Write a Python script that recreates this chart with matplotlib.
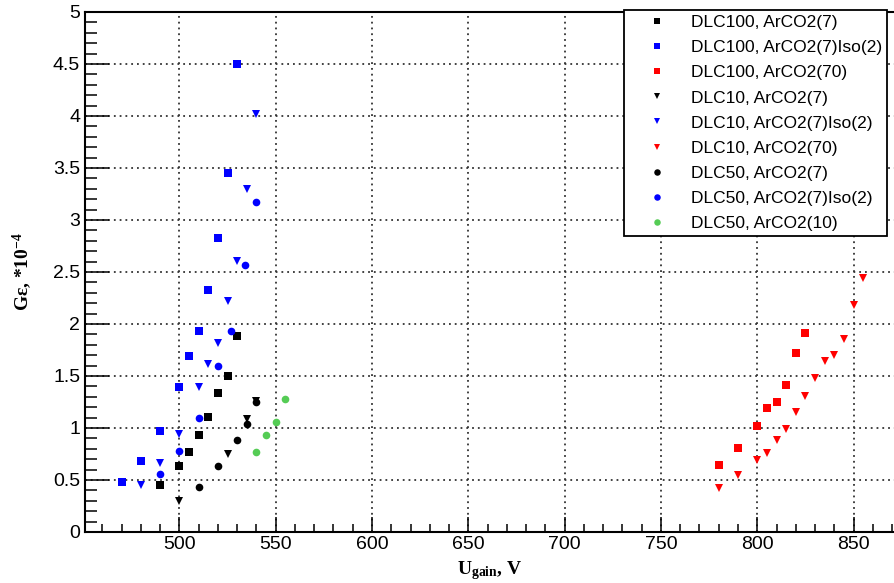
import numpy as np
import matplotlib
matplotlib.use('Agg')
import matplotlib.pyplot as plt
from matplotlib.ticker import MultipleLocator

plt.rcParams['font.family'] = ['Liberation Sans', 'DejaVu Sans']
plt.rcParams['mathtext.fontset'] = 'custom'
plt.rcParams['mathtext.rm'] = 'Liberation Serif:bold'
plt.rcParams['mathtext.default'] = 'rm'

# DLC100, ArCO2(7)
dlc100_7_u = [490, 500, 505, 510, 515, 520, 525, 530]
dlc100_7_g = [0.45, 0.63, 0.77, 0.93, 1.11, 1.34, 1.50, 1.88]
# DLC100, ArCO2(7)Iso(2)
dlc100_iso_u = [470, 480, 490, 500, 505, 510, 515, 520, 525, 530]
dlc100_iso_g = [0.48, 0.68, 0.97, 1.39, 1.69, 1.93, 2.33, 2.83, 3.45, 4.50]
# DLC100, ArCO2(70)
dlc100_70_u = [780, 790, 800, 805, 810, 815, 820, 825]
dlc100_70_g = [0.64, 0.81, 1.02, 1.19, 1.25, 1.41, 1.72, 1.91]
# DLC10, ArCO2(7)
dlc10_7_u = [500, 525, 535, 540]
dlc10_7_g = [0.30, 0.75, 1.09, 1.26]
# DLC10, ArCO2(7)Iso(2)
dlc10_iso_u = [480, 490, 500, 510, 515, 520, 525, 530, 535, 540]
dlc10_iso_g = [0.45, 0.66, 0.94, 1.39, 1.62, 1.82, 2.22, 2.61, 3.30, 4.02]
# DLC10, ArCO2(70)
dlc10_70_u = [780, 790, 800, 805, 810, 815, 820, 825, 830, 835, 840, 845, 850, 855]
dlc10_70_g = [0.42, 0.55, 0.69, 0.76, 0.88, 0.99, 1.15, 1.31, 1.48, 1.64, 1.70, 1.86, 2.18, 2.44]
# DLC50, ArCO2(7)
dlc50_7_u = [510, 520, 530, 535, 540]
dlc50_7_g = [0.43, 0.63, 0.88, 1.04, 1.25]
# DLC50, ArCO2(7)Iso(2)
dlc50_iso_u = [490, 500, 510, 520, 527, 534, 540]
dlc50_iso_g = [0.56, 0.78, 1.10, 1.60, 1.93, 2.57, 3.17]
# DLC50, ArCO2(10)
dlc50_10_u = [540, 545, 550, 555]
dlc50_10_g = [0.77, 0.93, 1.06, 1.28]

series = [
    (dlc100_7_u, dlc100_7_g, 's', 'black', 'DLC100, ArCO2(7)'),
    (dlc100_iso_u, dlc100_iso_g, 's', 'blue', 'DLC100, ArCO2(7)Iso(2)'),
    (dlc100_70_u, dlc100_70_g, 's', 'red', 'DLC100, ArCO2(70)'),
    (dlc10_7_u, dlc10_7_g, 'v', 'black', 'DLC10, ArCO2(7)'),
    (dlc10_iso_u, dlc10_iso_g, 'v', 'blue', 'DLC10, ArCO2(7)Iso(2)'),
    (dlc10_70_u, dlc10_70_g, 'v', 'red', 'DLC10, ArCO2(70)'),
    (dlc50_7_u, dlc50_7_g, 'o', 'black', 'DLC50, ArCO2(7)'),
    (dlc50_iso_u, dlc50_iso_g, 'o', 'blue', 'DLC50, ArCO2(7)Iso(2)'),
    (dlc50_10_u, dlc50_10_g, 'o', '#55cc55', 'DLC50, ArCO2(10)'),
]
sizes = {'s': 5.5, 'v': 5.3, 'o': 5.5}

fig = plt.figure(figsize=(8.94, 5.83), dpi=100)
ax = fig.add_axes([85 / 894, 51 / 583, 809 / 894, 520 / 583])

for u, g, m, c, lab in series:
    ax.plot(u, g, linestyle='none', marker=m, color=c, markersize=sizes[m],
            markeredgewidth=0, label=lab)

ax.set_xlim(451, 871)
ax.set_ylim(0, 5)
ax.xaxis.set_major_locator(MultipleLocator(50))
ax.xaxis.set_minor_locator(MultipleLocator(10))
ax.yaxis.set_minor_locator(MultipleLocator(0.1))
ax.set_yticks(np.arange(0, 5.01, 0.5))
ax.set_yticklabels(['0', '0.5', '1', '1.5', '2', '2.5', '3', '3.5', '4', '4.5', '5'])

ax.tick_params(axis='both', which='both', direction='in', top=False, right=False,
               labelsize=14, width=1.1, color='black')
ax.tick_params(axis='x', which='major', length=11, pad=3)
ax.tick_params(axis='x', which='minor', length=5.5)
ax.tick_params(axis='y', which='major', length=17, pad=3.5)
ax.tick_params(axis='y', which='minor', length=8.6)

for side in ['left', 'bottom', 'top']:
    ax.spines[side].set_linewidth(1.5)
ax.spines['right'].set_visible(False)

ax.grid(True, which='major', linestyle=(0, (1, 2.2)), linewidth=1.3, color='#333333')

fig.text(22 / 894, 1 - 272 / 583, r'G$\varepsilon$, *10$^{-4}$', rotation=90,
         ha='center', va='center', fontsize=14, family='Liberation Serif',
         fontweight='bold')
fig.text(490 / 894, 1 - 574 / 583, r'U$_{\mathrm{gain}}$, V', ha='center',
         va='baseline', fontsize=14, family='Liberation Serif', fontweight='bold')

leg = ax.legend(loc='upper left', bbox_to_anchor=(624 / 894, 1 - 10 / 583),
                bbox_transform=fig.transFigure, fontsize=12.5, frameon=True,
                fancybox=False, edgecolor='black', framealpha=1,
                borderpad=0.3, labelspacing=0.57, handlelength=3.2,
                handletextpad=0.35, borderaxespad=0, markerscale=0.85)
leg.get_frame().set_linewidth(1.3)

fig.savefig('out.png', dpi=100)
